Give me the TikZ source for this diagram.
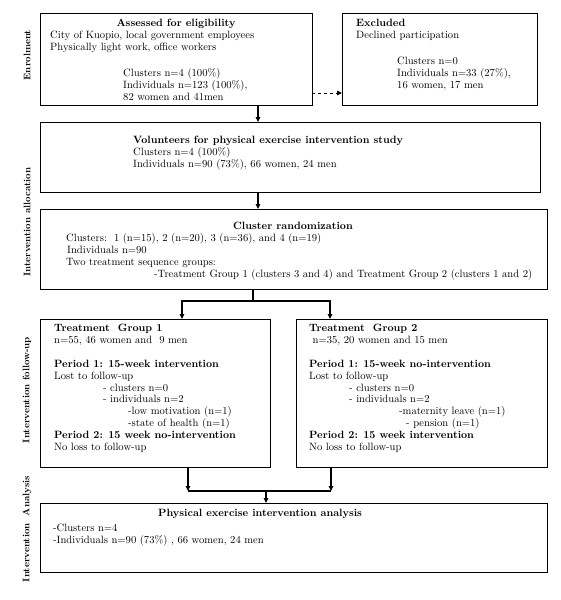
\documentclass[tikz,border=0pt]{standalone}
\usetikzlibrary{arrows.meta}
\begin{document}
\begin{tikzpicture}[x=1pt,y=-1pt,
  box/.style={draw, line width=0.9pt, anchor=north west, inner sep=0pt, outer sep=0pt},
  txt/.style={anchor=north west, inner sep=0pt, align=left, font=\fontsize{10.6}{11.9}\selectfont},
  ttl/.style={anchor=north, inner sep=0pt, font=\bfseries\fontsize{10.6}{11.9}\selectfont},
  lbl/.style={rotate=90, inner sep=0pt, font=\bfseries\fontsize{9.5}{11}\selectfont},
  arr/.style={-{Triangle[length=5pt,width=4.5pt]}, line width=1.1pt},
  lnk/.style={line width=1.1pt}]
\useasboundingbox (0,0) rectangle (561,600);

% boxes
\node[box, minimum width=272pt, minimum height=92pt] (b1) at (40,13) {};
\node[box, minimum width=195pt, minimum height=92pt] (ex) at (342,13) {};
\node[box, minimum width=500pt, minimum height=70pt] (b2) at (40,122) {};
\node[box, minimum width=507pt, minimum height=80pt] (b3) at (40,209) {};
\node[box, minimum width=230pt, minimum height=148pt] (tg1) at (40,319) {};
\node[box, minimum width=251pt, minimum height=148pt] (tg2) at (296,319) {};
\node[box, minimum width=507pt, minimum height=69pt] (an) at (40,503) {};

% side labels
\node[lbl] (l1) at (27,55) {Enrolment};
\node[lbl] (l2) at (27,222) {Intervention allocation};
\node[lbl] (l3) at (27,390) {Intervention follow-up};
\node[lbl] (l4) at (27,529) {Intervention\ \ Analysis};

% box 1
\node[ttl] (b1t) at (176,18) {\strut Assessed for eligibility};
\node[txt] (b1a) at (50,30) {\strut City of Kuopio, local government employees\\Physically light work, office workers};
\node[txt] (b1b) at (123,68) {\strut Clusters n=4 (100\%)\\Individuals n=123 (100\%),\\82 women and 41men};

% excluded
\node[txt] (ext) at (356,18) {\strut\textbf{Excluded}\\Declined participation};
\node[txt] (exb) at (397,56) {\strut Clusters n=0\\Individuals n=33 (27\%),\\16 women, 17 men};

% box 2
\node[txt] (b2a) at (133,135) {\strut\textbf{Volunteers for physical exercise intervention study}\\Clusters n=4 (100\%)\\Individuals n=90 (73\%), 66 women, 24 men};

% box 3
\node[ttl] (b3t) at (293,221) {\strut Cluster randomization};
\node[txt] (b3a) at (66,233) {\strut Clusters:\ \ 1 (n=15), 2 (n=20), 3 (n=36), and 4 (n=19)\\\hspace*{1pt}Individuals n=90\\Two treatment sequence groups:\\\hspace*{88pt}-Treatment Group 1 (clusters 3 and 4) and Treatment Group 2 (clusters 1 and 2)};

% treatment group 1
\node[txt] (tg1a) at (54,323) {\strut\textbf{Treatment\ \ Group 1}\\n=55, 46 women and\ \ 9 men\\[11.9pt]
\textbf{Period 1: 15-week intervention}\\Lost to follow-up\\
\hspace*{49pt}- clusters n=0\\\hspace*{49pt}- individuals n=2\\
\hspace*{74pt}-low motivation (n=1)\\\hspace*{74pt}-state of health (n=1)\\
\textbf{Period 2: 15 week no-intervention}\\No loss to follow-up};

% treatment group 2
\node[txt] (tg2a) at (309,323) {\strut\textbf{Treatment\ \ Group 2}\\\ n=35, 20 women and 15 men\\[11.9pt]
\textbf{Period 1: 15-week no-intervention}\\Lost to follow-up\\
\hspace*{40pt}- clusters n=0\\\hspace*{40pt}- individuals n=2\\
\hspace*{90pt}-maternity leave (n=1)\\\hspace*{97pt}- pension (n=1)\\
\textbf{Period 2: 15 week intervention}\\No loss to follow-up};

% analysis
\node[txt] (ant) at (158,508) {\strut\textbf{Physical exercise intervention analysis}};
\node[txt] (ana) at (53,523) {\strut -Clusters n=4\\-Individuals n=90 (73\%) , 66 women, 24 men};

% connector coordinates
\coordinate (x12) at (258,0);
\coordinate (yd) at (0,93);
\coordinate (xs) at (253,0);
\coordinate (ys) at (0,301);
\coordinate (xl) at (182,0);
\coordinate (xr) at (330,0);
\coordinate (xml) at (188,0);
\coordinate (xmr) at (331,0);
\coordinate (xmc) at (266,0);
\coordinate (ym) at (0,491);

\draw[arr] (x12 |- b1.south) -- (x12 |- b2.north);
\draw[arr, dashed, line width=0.9pt] (b1.east |- yd) -- (ex.west |- yd);
\draw[arr] (x12 |- b2.south) -- (x12 |- b3.north);
\draw[lnk] (xs |- b3.south) -- (xs |- ys);
\draw[arr] (xs |- ys) -| (xl |- tg1.north);
\draw[arr] (xs |- ys) -| (xr |- tg2.north);
\draw[arr] (xml |- tg1.south) -- (xml |- ym);
\draw[arr] (xmr |- tg2.south) -- (xmr |- ym);
\draw[lnk] (xml |- ym) -- (xmr |- ym);
\draw[arr] (xmc |- ym) -- (xmc |- an.north);
\end{tikzpicture}
\end{document}
